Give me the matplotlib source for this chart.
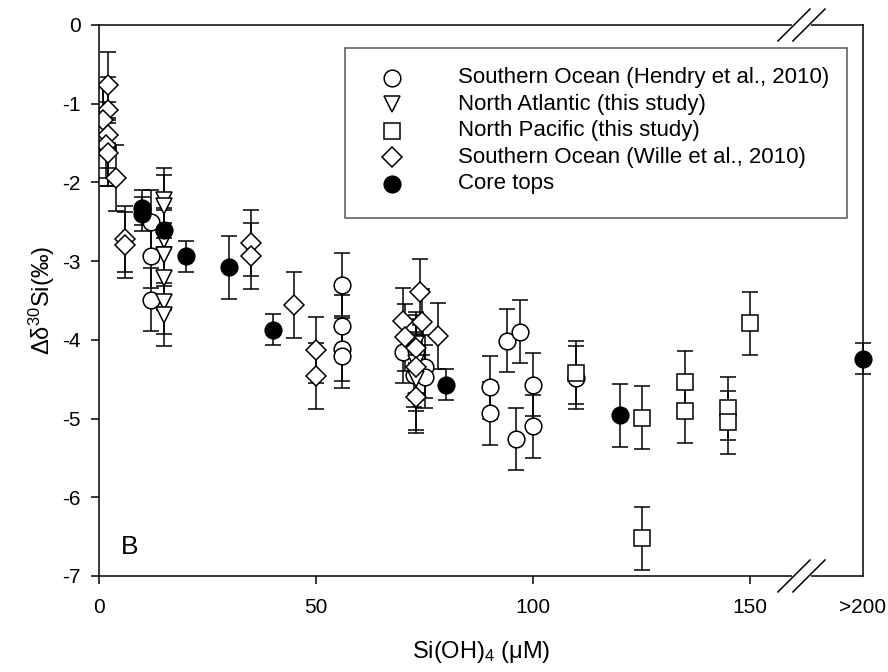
import matplotlib
matplotlib.use("Agg")
import matplotlib.pyplot as plt
from matplotlib.patches import Rectangle

plt.rcParams['font.family'] = ['Liberation Sans', 'DejaVu Sans']
plt.rcParams['mathtext.default'] = 'regular'
plt.rcParams['axes.unicode_minus'] = False

# Southern Ocean (Hendry et al., 2010)
hendry_x = [12, 12, 12, 56, 56, 56, 56, 70, 73, 75, 72.5, 75, 90, 90, 94, 97, 96, 100, 100, 110]
hendry_y = [-2.50, -2.94, -3.49, -3.30, -3.83, -4.12, -4.21, -4.15, -4.13, -4.34, -4.45, -4.47,
            -4.60, -4.93, -4.01, -3.90, -5.26, -4.57, -5.10, -4.48]
hendry_err = [0.4] * len(hendry_x)

# North Atlantic (this study)
natl_x = [1, 2, 15, 15, 15, 15, 15, 15, 15, 73, 73, 73, 73]
natl_y = [-1.18, -1.65, -2.22, -2.30, -2.73, -2.92, -3.22, -3.52, -3.68, -4.05, -4.30, -4.50, -4.78]
natl_err = [0.4] * len(natl_x)

# North Pacific (this study)
npac_x = [110, 125, 125, 135, 135, 145, 145, 150]
npac_y = [-4.42, -4.99, -6.52, -4.54, -4.91, -4.87, -5.05, -3.79]
npac_err = [0.4] * len(npac_x)

# Southern Ocean (Wille et al., 2010)
wille_x = [2, 2, 1, 2, 1.5, 2, 4, 6, 6, 35, 35, 45, 50, 50, 70, 74, 74.5, 78, 70.5, 73, 73, 73]
wille_y = [-0.76, -1.08, -1.21, -1.40, -1.52, -1.63, -1.94, -2.72, -2.80, -2.77, -2.93, -3.56,
           -4.13, -4.46, -3.76, -3.39, -3.77, -3.95, -3.97, -4.11, -4.34, -4.72]
wille_err = [0.42] * len(wille_x)

# Core tops
core_x = [10, 10, 15, 20, 30, 40, 80, 120]
core_y = [-2.32, -2.40, -2.60, -2.94, -3.08, -3.87, -4.57, -4.96]
core_err = [0.22, 0.22, 0.25, 0.2, 0.4, 0.2, 0.2, 0.4]
core_gt200_y = -4.24
core_gt200_err = 0.2

xticks = [0, 50, 100, 150]
xticklabels = ['0', '50', '100', '150']
yticks = [0, -1, -2, -3, -4, -5, -6, -7]

XMAX = 176  # right end of the axis, where ">200" sits

fig = plt.figure(figsize=(8.88, 6.72), dpi=100)
ax = fig.add_axes([0.1115, 0.1429, 0.8603, 0.8199])

eb = dict(ecolor='black', elinewidth=1.1, capsize=6, capthick=1.1, mec='black', mew=1.1, ls='none')
styles = [
    ('o', 12, 'white'),
    ('v', 12, 'white'),
    ('s', 11, 'white'),
    ('D', 10, 'white'),
    ('o', 12, 'black'),
]
series = [(hendry_x, hendry_y, hendry_err), (natl_x, natl_y, natl_err),
          (npac_x, npac_y, npac_err), (wille_x, wille_y, wille_err),
          (core_x, core_y, core_err)]
for (sx, sy, se), (m, ms, fc) in zip(series, styles):
    ax.errorbar(sx, sy, yerr=se, marker=m, ms=ms, mfc=fc, **eb)
ax.errorbar([XMAX], [core_gt200_y], yerr=[core_gt200_err], marker='o', ms=12, mfc='black',
            clip_on=False, **eb)

ax.set_xlim(0, XMAX)
ax.set_ylim(-7, 0)
ax.set_xticks(xticks + [XMAX])
ax.set_xticklabels(xticklabels + ['>200'])
ax.xaxis.get_major_ticks()[-1].tick1line.set_visible(False)
ax.set_yticks(yticks)
ax.tick_params(direction='out', length=6, width=1.1, labelsize=15)
ax.tick_params(axis='x', pad=10)
ax.tick_params(axis='y', pad=7)
for s in ax.spines.values():
    s.set_linewidth(1.1)

ax.set_xlabel('Si(OH)$_4$ (μM)', fontsize=17, labelpad=16)
ax.set_ylabel('Δδ$^{30}$Si(‰)', fontsize=17, labelpad=4)

# axis break marks
for yb in (0, 1):
    ax.plot([0.9097, 0.9293], [yb, yb], color='white', lw=3, transform=ax.transAxes,
            clip_on=False, zorder=5)
    for xb in (0.9097, 0.9293):
        ax.plot([xb - 0.021, xb + 0.021], [yb - 0.029, yb + 0.029], color='black', lw=1.1,
                transform=ax.transAxes, clip_on=False, zorder=6)

ax.text(0.029, 0.052, 'B', transform=ax.transAxes, fontsize=19, ha='left', va='center')

# legend box drawn by hand
labels = ['Southern Ocean (Hendry et al., 2010)', 'North Atlantic (this study)',
          'North Pacific (this study)', 'Southern Ocean (Wille et al., 2010)', 'Core tops']
ax.add_patch(Rectangle((0.322, 0.650), 0.657, 0.308, transform=ax.transAxes, fill=True,
                       facecolor='white', edgecolor='#555555', lw=1.1, zorder=7))
row_y = [0.904, 0.856, 0.808, 0.760, 0.712]
for (m, ms, fc), lab, ry in zip(styles, labels, row_y):
    ax.plot([0.3835], [ry], ls='none', marker=m, ms=ms, mfc=fc, mec='black', mew=1.1,
            transform=ax.transAxes, zorder=8, clip_on=False)
    ax.text(0.470, ry, lab, transform=ax.transAxes, fontsize=16, va='center', ha='left', zorder=8)

fig.savefig('out.png', dpi=100)
